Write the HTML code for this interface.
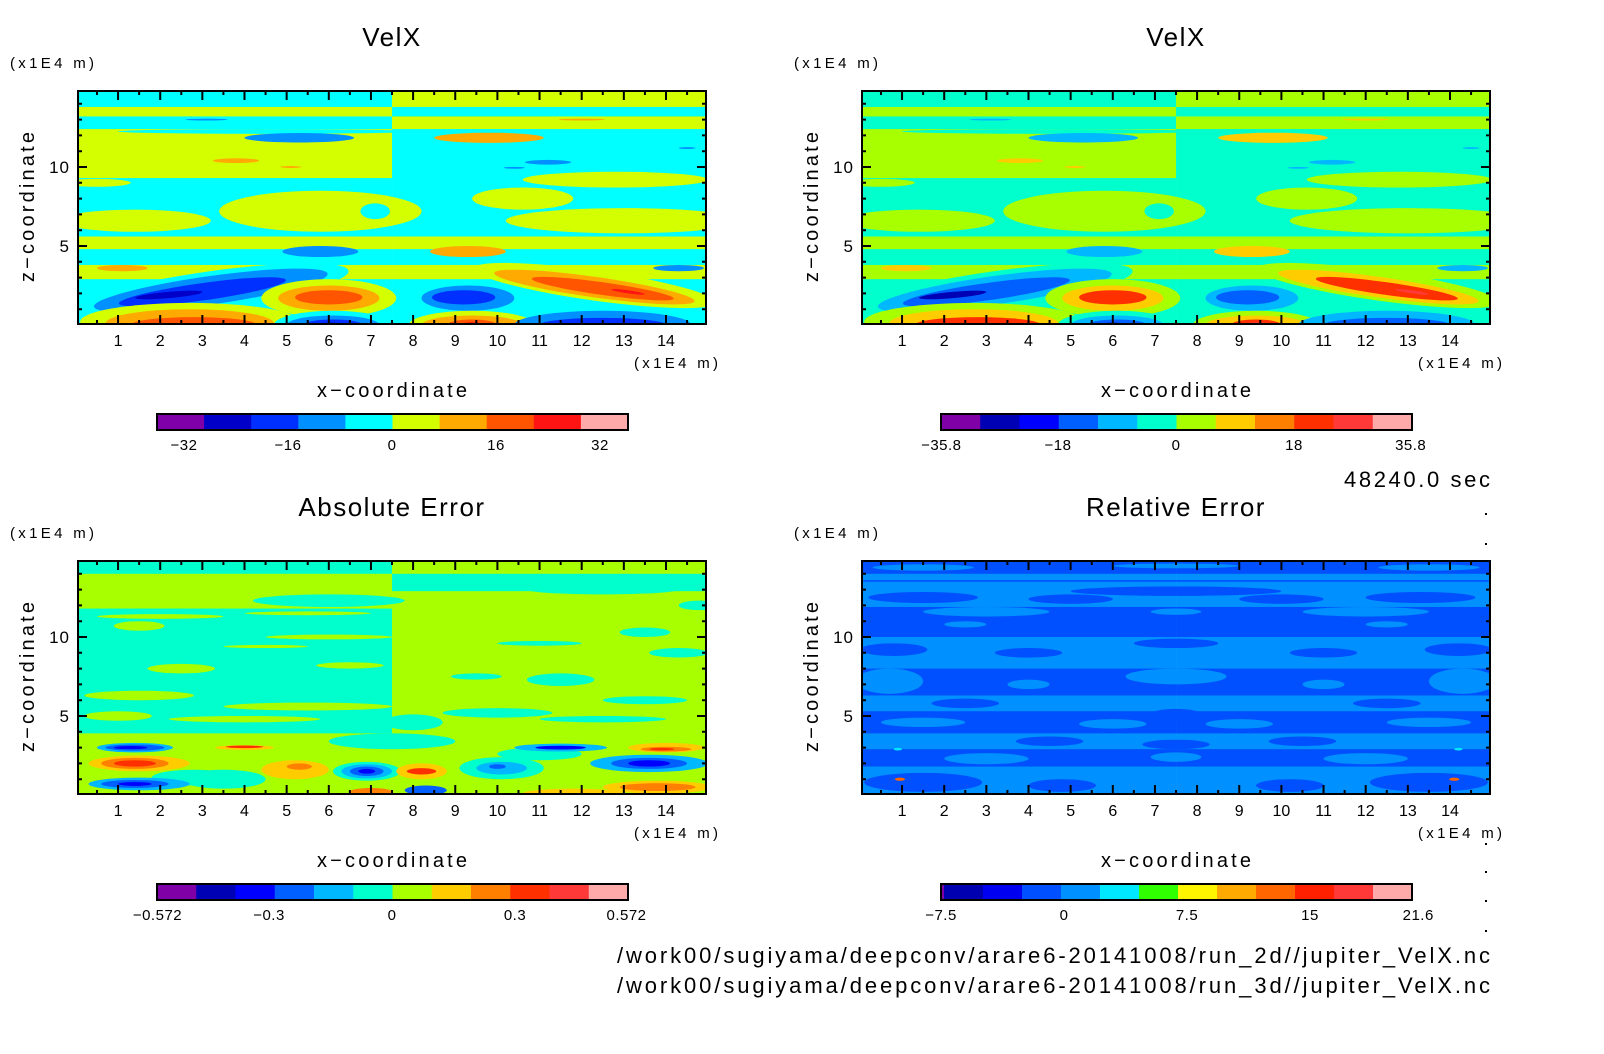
<!DOCTYPE html>
<html><head><meta charset="utf-8"><style>
html,body{margin:0;padding:0;background:#fff;}
svg{display:block;font-family:"Liberation Sans",sans-serif;}
</style></head>
<body>
<svg id="chart" width="1604" height="1054" viewBox="0 0 1604 1054" xmlns="http://www.w3.org/2000/svg">
<rect x="0" y="0" width="1604" height="1054" fill="#fff"/>
<defs>
<clipPath id="c0"><rect x="78" y="91" width="628" height="233"/></clipPath>
<clipPath id="c1"><rect x="862" y="91" width="628" height="233"/></clipPath>
<clipPath id="c2"><rect x="78" y="561" width="628" height="233"/></clipPath>
<clipPath id="c3"><rect x="862" y="561" width="628" height="233"/></clipPath>
</defs>
<text x="1490" y="487" font-size="22" text-anchor="end" textLength="146">48240.0 sec</text>
<text x="617" y="963" font-size="22" textLength="873">/work00/sugiyama/deepconv/arare6-20141008/run_2d//jupiter_VelX.nc</text>
<text x="617" y="993" font-size="22" textLength="873">/work00/sugiyama/deepconv/arare6-20141008/run_3d//jupiter_VelX.nc</text>
<g fill="#000">
<rect x="1485" y="513" width="2" height="2"/><rect x="1485" y="543" width="2" height="2"/>
<rect x="1485" y="843" width="2" height="2"/><rect x="1485" y="871" width="2" height="2"/>
<rect x="1485" y="900" width="2" height="2"/><rect x="1485" y="930" width="2" height="2"/>
</g>
</svg>
<script>
// ---- data ----
const xTickLabels = [1,2,3,4,5,6,7,8,9,10,11,12,13,14];
const zTickLabels = [5,10];
const titles = ["VelX","VelX","Absolute Error","Relative Error"];
const colors1 = ["#7f00a8","#0000c8","#0030ff","#0090ff","#00ffff","#d4ff00","#ffaa00","#ff5500","#ff1414","#ffaaaa"];
const colors2 = ["#8000a8","#0000b4","#0000ff","#0060ff","#00b8ff","#00ffcc","#a8ff00","#ffcc00","#ff8000","#ff3000","#ff3838","#ffaaaa"];
const colors4 = ["#8000a8","#0000b0","#0000f0","#0050ff","#0090ff","#00e8ff","#30ff00","#fff500","#ffaa00","#ff6600","#ff2000","#ff3838","#ffaaaa"];
const cbTicks1 = [-32,-16,0,16,32];
const cbTicks2 = [-35.8,-18,0,18,35.8];
const cbTicks3 = [-0.572,-0.3,0,0.3,0.572];
const cbTicks4 = [-7.5,0,7.5,15,21.6];
// bands: [z0, z1, valueLeftHalf, valueRightHalf]
const velBands = [[13.8,14.9,-3,3],[13.2,13.8,3,-3],[12.4,13.2,-3,3],[11.3,12.4,3,-3],[9.3,11.3,3,-3],[8.7,9.3,-3,-3],[5.6,8.7,-3,-3],[4.8,5.6,3,3],[3.8,4.8,-3,-3],[2.9,3.8,3,3],[0,2.9,-3,-3]];
// blobs: [x, z, rx, rz, angleDeg, value]
const velBlobs = [
[3.1,13.0,0.5,0.06,0,-10],[12.0,13.0,0.55,0.06,0,10],[4.5,12.25,3.5,0.15,0,-3],
[5.3,11.85,1.3,0.3,0,-10],[9.8,11.85,1.3,0.32,0,10],[14.5,11.2,0.2,0.06,0,-10],
[3.8,10.4,0.55,0.15,0,10],[5.1,10.0,0.25,0.06,0,10],[11.2,10.3,0.55,0.15,0,-10],[10.4,9.95,0.25,0.06,0,-10],
[12.8,9.2,2.2,0.5,0,3],[0.5,9.0,0.8,0.25,0,3],[5.8,7.2,2.4,1.3,0,3],[1.4,6.6,1.8,0.7,0,3],
[7.1,7.2,0.35,0.5,0,-3],[13.0,6.6,2.8,0.8,0,3],[7.9,7.2,0.3,0.4,0,3],[10.6,8.0,1.2,0.7,0,3],
[5.8,4.65,0.9,0.35,0,-10],[9.3,4.65,0.9,0.35,0,10],
[1.1,3.6,0.6,0.2,0,10],[5.3,3.5,0.4,0.1,0,10],[10.4,3.55,0.5,0.1,0,-10],[14.3,3.6,0.6,0.2,0,-10],
[3.4,3.0,1.4,0.2,5,10],
[3.2,2.2,3.3,1.2,8,-3],[3.2,2.2,2.8,0.9,8,-10],[3.0,2.1,2.0,0.55,8,-18],[2.2,1.9,0.8,0.2,5,-26],
[6.0,1.7,1.6,1.2,0,3],[6.0,1.7,1.2,0.8,0,10],[6.0,1.75,0.8,0.45,0,18],
[9.3,1.7,1.1,0.8,0,-10],[9.2,1.75,0.75,0.45,0,-18],
[12.3,2.5,2.9,0.95,-8,3],[12.3,2.4,2.4,0.65,-8,10],[12.5,2.3,1.7,0.4,-8,18],[13.1,2.1,0.4,0.1,-8,26],
[2.7,0.2,2.6,1.2,0,3],[2.7,0.1,2.0,0.9,0,10],[2.8,0.0,1.5,0.5,0,18],
[6.1,0,1.4,0.9,0,-3],[6.1,0,1.1,0.6,0,-10],[6.1,0,0.7,0.35,0,-18],[6.0,0,0.3,0.15,0,-26],
[9.4,0,1.5,0.9,0,3],[9.4,0,1.2,0.6,0,10],[9.4,0,0.6,0.35,0,18],[9.4,0,0.25,0.18,0,26],
[12.5,0,2.1,0.9,0,-10],[12.5,0,1.5,0.45,0,-18]];
const absBands = [[14.0,14.9,-0.05,0.05],[12.9,14.0,0.05,-0.05],[11.8,12.9,0.05,0.05],[3.9,11.8,-0.05,0.05],[0,3.9,0.05,0.05]];
const absBlobs = [
[2.0,11.3,1.5,0.15,0,0.05],[5.5,11.5,1.5,0.12,0,0.05],[1.5,10.7,0.6,0.3,0,0.05],[6.0,10.0,1.5,0.15,0,0.05],[4.5,9.4,1.0,0.1,0,0.05],
[2.5,8.0,0.8,0.3,0,0.05],[6.5,8.2,0.8,0.2,0,0.05],[1.5,6.3,1.3,0.3,0,0.05],[5.5,5.6,2.0,0.25,0,0.05],[4.0,4.8,1.8,0.2,0,0.05],[1.0,5.0,0.8,0.3,0,0.05],
[6.0,12.3,1.8,0.4,0,-0.05],[12.5,13.0,1.8,0.3,0,-0.05],[13.5,10.3,0.6,0.3,0,-0.05],[11.0,9.6,1.0,0.15,0,-0.05],[14.3,9.0,0.7,0.3,0,-0.05],
[11.5,7.3,0.8,0.4,0,-0.05],[9.5,7.5,0.6,0.2,0,-0.05],[13.5,6.0,1.0,0.25,0,-0.05],[10.0,5.2,1.3,0.3,0,-0.05],[8.0,4.6,0.7,0.5,0,-0.05],[12.5,4.8,1.5,0.2,0,-0.05],[14.8,12.0,0.5,0.3,0,-0.05],
[7.5,3.4,1.5,0.5,0,-0.05],[2.8,1.1,1.0,0.5,0,-0.05],[11.0,2.6,1.0,0.4,0,-0.05],[3.5,1.0,1.0,0.6,0,-0.05],
[1.4,3.0,0.9,0.3,0,-0.15],[1.4,3.0,0.7,0.2,0,-0.25],[1.3,3.0,0.4,0.1,0,-0.35],
[4.0,3.0,0.7,0.15,0,0.15],[4.0,3.05,0.45,0.08,0,0.35],
[1.5,2.0,1.2,0.5,0,0.15],[1.4,2.0,0.8,0.35,0,0.25],[1.4,2.0,0.5,0.2,0,0.35],
[1.5,0.7,1.2,0.4,0,-0.15],[1.4,0.7,0.8,0.25,0,-0.25],[1.4,0.7,0.4,0.12,0,-0.35],
[5.2,1.6,0.8,0.6,0,0.15],[5.3,1.8,0.3,0.2,0,0.25],
[6.9,1.5,0.8,0.6,0,-0.05],[6.9,1.5,0.6,0.45,0,-0.15],[6.9,1.5,0.4,0.3,0,-0.25],[6.9,1.5,0.2,0.15,0,-0.35],
[7.0,0.2,0.5,0.25,0,0.25],[8.2,1.5,0.6,0.5,0,0.15],[8.2,1.5,0.35,0.2,0,0.35],[8.3,0.3,0.5,0.3,0,-0.25],
[10.1,1.7,1.0,0.7,0,-0.05],[10.1,1.7,0.6,0.4,0,-0.15],[10.0,1.8,0.2,0.15,0,-0.25],
[11.5,3.0,1.1,0.25,0,-0.15],[11.5,3.0,0.6,0.12,0,-0.35],
[14.0,3.0,0.9,0.3,0,0.15],[14.0,2.9,0.6,0.15,0,0.25],[13.9,2.9,0.3,0.08,0,0.35],
[13.6,2.0,1.4,0.55,0,-0.15],[13.6,2.0,0.9,0.35,0,-0.25],[13.6,2.0,0.5,0.2,0,-0.35],
[13.8,0.5,1.3,0.4,0,0.15],[13.8,0.5,0.9,0.25,0,0.25],[11.8,0.1,1.2,0.3,0,0.15]];
const relBands = [[14.0,14.9,-1.3,-1.3],[13.6,14.0,1,1],[13.5,13.6,-1.3,-1.3],[13.1,13.5,1,1],[11.9,13.1,1,1],[11.3,11.9,-1.3,-1.3],[10.0,11.3,-1.3,-1.3],[8.0,10.0,1,1],[6.3,8.0,-1.3,-1.3],[5.3,6.3,1,1],[3.9,5.3,-1.3,-1.3],[2.9,3.9,1,1],[1.8,2.9,-1.3,-1.3],[0,1.8,1,1]];
const relBlobs = [
[1.5,14.4,1.2,0.2,0,1],[13.5,14.4,1.2,0.2,0,1],[7.5,14.5,1.5,0.15,0,1],
[1.5,12.5,1.3,0.35,0,-1.3],[5.0,12.4,1.0,0.3,0,-1.3],[10,12.4,1.0,0.3,0,-1.3],[13.3,12.5,1.3,0.35,0,-1.3],[7.5,12.9,2.5,0.3,0,-1.3],
[3.0,11.6,1.5,0.3,0,1],[12.0,11.6,1.5,0.3,0,1],[7.5,11.6,0.6,0.2,0,1],[2.5,10.8,0.5,0.2,0,1],[12.5,10.8,0.5,0.2,0,1],
[0.8,9.2,0.8,0.4,0,-1.3],[4.0,9.0,0.8,0.3,0,-1.3],[11,9.0,0.8,0.3,0,-1.3],[14.2,9.2,0.8,0.4,0,-1.3],[7.5,9.6,1.0,0.3,0,-1.3],
[0.7,7.2,0.8,0.8,0,1],[14.3,7.2,0.8,0.8,0,1],[7.5,7.5,1.2,0.5,0,1],[4,7.0,0.5,0.3,0,1],[11,7.0,0.5,0.3,0,1],
[2.5,5.8,0.8,0.3,0,-1.3],[12.5,5.8,0.8,0.3,0,-1.3],[7.5,5.1,0.6,0.35,0,-1.3],
[1.5,4.6,1.0,0.3,0,1],[6.0,4.5,0.8,0.3,0,1],[9.0,4.5,0.8,0.3,0,1],[13.5,4.6,1.0,0.3,0,1],
[4.5,3.4,0.8,0.3,0,-1.3],[10.5,3.4,0.8,0.3,0,-1.3],[7.5,3.2,0.8,0.3,0,-1.3],
[3.0,2.3,1.0,0.35,0,1],[12.0,2.3,1.0,0.35,0,1],[7.5,2.4,0.6,0.3,0,1],
[1.5,0.8,1.4,0.6,0,-1.3],[13.5,0.8,1.4,0.6,0,-1.3],[4.8,0.6,0.8,0.4,0,-1.3],[10.2,0.6,0.8,0.4,0,-1.3],
[0.95,1.0,0.12,0.1,0,12],[14.1,1.0,0.12,0.1,0,12],[0.9,2.9,0.1,0.08,0,4],[14.2,2.9,0.1,0.08,0,4]];

// ---- rendering ----
const NS = "http://www.w3.org/2000/svg";
const svg = document.getElementById("chart");
function el(tag, parent){ const e=document.createElementNS(NS,tag); parent.appendChild(e); return e; }
function bin1(v){ return Math.max(0,Math.min(9,Math.floor((v+36)/7.2))); }
function bin2(v){ return Math.max(0,Math.min(11,Math.floor((v+36)/6))); }
function bin3(v){ return Math.max(0,Math.min(11,Math.floor((v+0.572)/(0.572/6)))); }
function bin4(v){ const px=1064+v*123/7.5; return px<944?0:Math.max(1,Math.min(12,1+Math.floor((px-944)/39))); }

const panels = [
 {ox:0,oy:0,bands:velBands,blobs:velBlobs,bin:bin1,colors:colors1,ticks:cbTicks1,cbPos:v=>392+v*104/16,name:"velx-2d"},
 {ox:784,oy:0,bands:velBands,blobs:velBlobs,bin:bin2,colors:colors2,ticks:cbTicks2,cbPos:v=>392+v*118/18,name:"velx-3d"},
 {ox:0,oy:470,bands:absBands,blobs:absBlobs,bin:bin3,colors:colors2,ticks:cbTicks3,cbPos:v=>392+v*410,name:"absolute-error"},
 {ox:784,oy:470,bands:relBands,blobs:relBlobs,bin:bin4,colors:colors4,ticks:cbTicks4,cbPos:v=>280+v*123/7.5,name:"relative-error"}
];

panels.forEach((p,pi)=>{
  const xs = x => p.ox+75.9+x*42.15;
  const zs = z => p.oy+325-z*15.8;
  const g = el("g",svg);
  
  
  const field = el("g",g);
  
  
  field.setAttribute("clip-path","url(#c"+pi+")");
  p.bands.forEach(b=>{
    [[0,7.5,b[2]],[7.5,15.2,b[3]]].forEach(h=>{
      const r=el("rect",field);
      
      
      r.setAttribute("x",xs(h[0])); r.setAttribute("width",xs(h[1])-xs(h[0]));
      r.setAttribute("y",zs(b[1])); r.setAttribute("height",zs(b[0])-zs(b[1])+0.5);
      r.setAttribute("fill",p.colors[p.bin(h[2])]);
    });
  });
  p.blobs.forEach(b=>{
    const e=el("ellipse",field);
    
    
    const cx=xs(b[0]), cy=zs(b[1]);
    e.setAttribute("cx",cx); e.setAttribute("cy",cy);
    e.setAttribute("rx",b[2]*42.15); e.setAttribute("ry",b[3]*15.8);
    e.setAttribute("transform","rotate("+(-b[4])+" "+cx+" "+cy+")");
    e.setAttribute("fill",p.colors[p.bin(b[5])]);
  });
  const fr=el("rect",g);
  
  
  fr.setAttribute("x",p.ox+78); fr.setAttribute("y",p.oy+91); fr.setAttribute("width",628); fr.setAttribute("height",233);
  fr.setAttribute("fill","none"); fr.setAttribute("stroke","#000"); fr.setAttribute("stroke-width","2");
  let d="";
  for(let k=1;k<30;k++){ const x=xs(k/2), L=(k%2===0)?9:4;
    d+="M"+x+" "+(p.oy+91)+"v"+L+"M"+x+" "+(p.oy+324)+"v"+(-L); }
  for(let z=1;z<=14;z++){ const y=zs(z), L=(z%5===0)?9:4;
    d+="M"+(p.ox+78)+" "+y+"h"+L+"M"+(p.ox+706)+" "+y+"h"+(-L); }
  const tk=el("path",g);
  
  
  tk.setAttribute("d",d); tk.setAttribute("stroke","#000"); tk.setAttribute("stroke-width","2");
  xTickLabels.forEach(v=>{
    const t=el("text",g);
    
    
    t.setAttribute("x",xs(v)); t.setAttribute("y",p.oy+346); t.setAttribute("font-size","16");
    t.setAttribute("text-anchor","middle"); t.textContent=v;
  });
  zTickLabels.forEach(v=>{
    const t=el("text",g);
    
    
    t.setAttribute("x",p.ox+70); t.setAttribute("y",zs(v)+6); t.setAttribute("font-size","17");
    t.setAttribute("letter-spacing","1");
    t.setAttribute("text-anchor","end"); t.textContent=v;
  });
  const texts=[
    ["x-unit-label",p.ox+634,p.oy+368,15,"start","(x1E4 m)",84],
    ["z-unit-label",p.ox+10,p.oy+68,15,"start","(x1E4 m)",84],
    ["x-axis-title",p.ox+317,p.oy+397,20,"start","x\u2212coordinate",150],
    ["panel-title",p.ox+392,p.oy+46,26,"middle",titles[pi],0]
  ];
  texts.forEach(a=>{
    const t=el("text",g);
    
    
    t.setAttribute("x",a[1]); t.setAttribute("y",a[2]); t.setAttribute("font-size",a[3]);
    t.setAttribute("text-anchor",a[4]); if(a[6]) t.setAttribute("textLength",a[6]);
    else t.setAttribute("letter-spacing","1.5");
    t.textContent=a[5];
  });
  const zt=el("text",g);
  
  
  zt.setAttribute("x",p.ox+34); zt.setAttribute("y",p.oy+207); zt.setAttribute("font-size","20");
  zt.setAttribute("text-anchor","middle"); zt.setAttribute("textLength","150");
  zt.setAttribute("transform","rotate(-90 "+(p.ox+34)+" "+(p.oy+207)+")");
  zt.textContent="z\u2212coordinate";
  const cb=el("g",g);
  
  
  const n=p.colors.length, x0=p.ox+157, W=471;
  const widths = (n===13) ? [3].concat(Array(12).fill(39)) : Array(n).fill(W/n);
  let cx=x0;
  p.colors.forEach((c,i)=>{
    const r=el("rect",cb);
    
    
    r.setAttribute("x",cx); r.setAttribute("y",p.oy+414); r.setAttribute("width",widths[i]+0.5); r.setAttribute("height",16);
    r.setAttribute("fill",c); cx+=widths[i];
  });
  const cbf=el("rect",cb);
  
  
  cbf.setAttribute("x",x0); cbf.setAttribute("y",p.oy+414); cbf.setAttribute("width",W); cbf.setAttribute("height",16);
  cbf.setAttribute("fill","none"); cbf.setAttribute("stroke","#000"); cbf.setAttribute("stroke-width","2");
  p.ticks.forEach(v=>{
    const t=el("text",cb);
    
    
    t.setAttribute("x",p.ox+p.cbPos(v)); t.setAttribute("y",p.oy+450); t.setAttribute("font-size","15");
    t.setAttribute("letter-spacing","0.5");
    t.setAttribute("text-anchor","middle"); t.textContent=String(v).replace("-","\u2212");
  });
});
</script>
</body></html>
